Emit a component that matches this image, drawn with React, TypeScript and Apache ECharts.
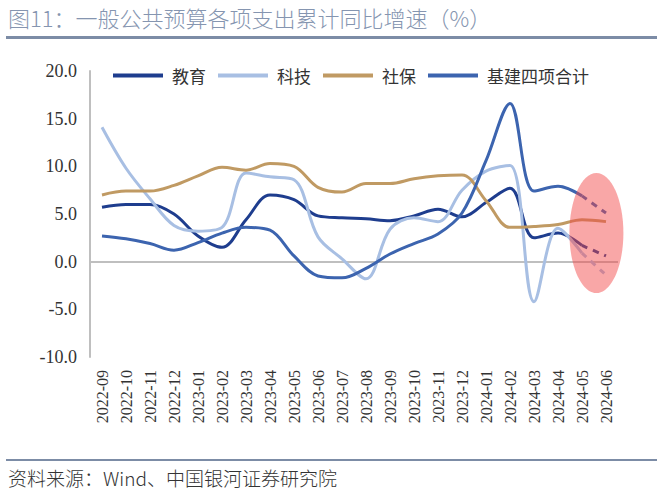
import React, { useEffect, useRef } from "react";
import * as echarts from "echarts";

const categories = [
  "2022-09", "2022-10", "2022-11", "2022-12", "2023-01", "2023-02", "2023-03", "2023-04",
  "2023-05", "2023-06", "2023-07", "2023-08", "2023-09", "2023-10", "2023-11", "2023-12",
  "2024-01", "2024-02", "2024-03", "2024-04", "2024-05", "2024-06",
];

const education = [5.7, 6.0, 6.0, 5.0, 2.7, 1.5, 4.4, 7.0, 6.5, 4.8, 4.6, 4.5, 4.3, 4.8, 5.5, 4.7, 6.2, 7.7, 2.5, 3.0, 1.7, 0.6];
const tech = [14.1, 9.8, 6.6, 3.8, 3.2, 3.6, 9.3, 8.9, 8.6, 2.6, 0.3, -1.8, 3.4, 4.6, 4.2, 7.5, 9.5, 10.1, -4.2, 3.5, 0.9, -1.4];
const social = [7.0, 7.4, 7.4, 8.0, 9.0, 9.9, 9.6, 10.3, 10.0, 7.8, 7.3, 8.2, 8.2, 8.7, 9.0, 9.1, 6.4, 3.6, 3.7, 3.9, 4.4, 4.2];
const infra = [2.7, 2.4, 1.9, 1.2, 2.0, 3.0, 3.6, 3.3, 0.6, -1.5, -1.7, -0.7, 0.8, 1.9, 2.9, 5.1, 10.6, 16.6, 7.4, 7.9, 6.9, 5.1];

const yTicks = { min: -10, max: 20, interval: 5 };

const names = ["教育", "科技", "社保", "基建四项合计"];
const colors = ["#1E3D8E", "#A8BFE3", "#C09A63", "#3C64AF"];

const SERIF = "Times New Roman, Liberation Serif, DejaVu Serif, serif";
const CJK = "Noto Sans CJK SC";

function splitMain(arr: number[]) {
  return arr.map((v, i) => (i <= arr.length - 2 ? v : null));
}
function splitTail(arr: number[]) {
  return arr.map((v, i) => (i >= arr.length - 2 ? v : null));
}

export default function App() {
  const ref = useRef<HTMLDivElement>(null);
  useEffect(() => {
    if (!ref.current) return;
    const chart = echarts.init(ref.current, undefined, { renderer: "svg" });
    const datasets = [education, tech, social, infra];
    const series: any[] = [];
    datasets.forEach((d, k) => {
      const dashedTail = k !== 2;
      series.push({
        name: names[k],
        type: "line",
        smooth: 0.35,
        showSymbol: false,
        symbol: "none",
        data: dashedTail ? splitMain(d) : d,
        lineStyle: { color: colors[k], width: 3 },
        itemStyle: { color: colors[k] },
        z: 3,
        ...(k === 0
          ? {
              markLine: {
                silent: true,
                symbol: ["none", "none"],
                label: { show: false },
                lineStyle: { color: "#BFBFBF", width: 2, type: "solid" },
                data: [{ yAxis: 0 }],
                z: 1,
              },
            }
          : {}),
      });
      if (dashedTail) {
        series.push({
          name: names[k],
          type: "line",
          smooth: 0.35,
          showSymbol: false,
          symbol: "none",
          data: splitTail(d),
          lineStyle: { color: colors[k], width: 3, type: [6, 6] },
          itemStyle: { color: colors[k] },
          z: 3,
        });
      }
    });

    const baseGraphic: any[] = [
      {
        type: "text",
        left: 8,
        top: 6,
        style: {
          text: "图11：一般公共预算各项支出累计同比增速（%）",
          fontSize: 22,
          fill: "#8595B0",
          fontFamily: CJK,
          fontWeight: 300,
        },
      },
      {
        type: "rect",
        shape: { x: 6, y: 36, width: 651, height: 3 },
        style: { fill: "#7C8CA6" },
      },
      {
        type: "rect",
        shape: { x: 6, y: 459, width: 651, height: 2 },
        style: { fill: "#7C8CA6" },
      },
      {
        type: "text",
        left: 8,
        top: 468,
        style: {
          text: "资料来源：Wind、中国银河证券研究院",
          fontSize: 19,
          fill: "#333333",
          fontFamily: CJK,
          fontWeight: 300,
        },
      },
    ];

    chart.setOption({
      animation: false,
      backgroundColor: "#ffffff",
      legend: {
        data: names,
        left: 108,
        top: 62,
        itemWidth: 50,
        itemHeight: 4,
        itemGap: 12,
        icon: "rect",
        textStyle: {
          fontSize: 17,
          color: "#333333",
          fontFamily: CJK,
          padding: [0, 0, 0, 4],
        },
      },
      grid: { left: 90, right: 46, top: 71, bottom: 140, containLabel: false },
      xAxis: {
        type: "category",
        data: categories,
        boundaryGap: true,
        axisLine: { show: false },
        axisTick: { show: false },
        axisLabel: {
          rotate: 90,
          fontSize: 16,
          color: "#333333",
          margin: 13,
          interval: 0,
          fontFamily: SERIF,
        },
      },
      yAxis: {
        type: "value",
        min: yTicks.min,
        max: yTicks.max,
        interval: yTicks.interval,
        splitLine: { show: false },
        axisTick: { show: false },
        axisLine: { show: true, lineStyle: { color: "#BFBFBF", width: 2 } },
        axisLabel: {
          fontSize: 18,
          color: "#333333",
          margin: 13,
          fontFamily: SERIF,
          formatter: (v: number) => v.toFixed(1),
        },
      },
      series,
      graphic: baseGraphic,
    });

    const p0 = chart.convertToPixel({ xAxisIndex: 0, yAxisIndex: 0 }, [20, 3]) as number[];
    const p1 = chart.convertToPixel({ xAxisIndex: 0, yAxisIndex: 0 }, [21, 3]) as number[];
    const cx = p0[0] + (p1[0] - p0[0]) * 0.6;
    const cy = p0[1];
    chart.setOption(
      {
        graphic: [
          ...baseGraphic,
          {
            type: "ellipse",
            z: 100,
            shape: { cx, cy, rx: 27, ry: 60 },
            style: { fill: "rgba(243, 72, 72, 0.48)" },
          },
        ],
      },
      { replaceMerge: ["graphic"] }
    );

    return () => chart.dispose();
  }, []);
  return (
    <div
      ref={ref}
      style={{ position: "fixed", left: 0, top: 0, width: 664, height: 497 }}
    />
  );
}
